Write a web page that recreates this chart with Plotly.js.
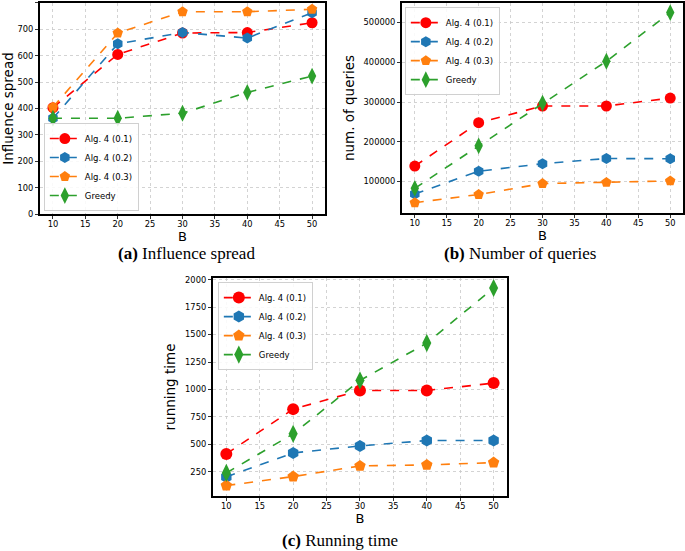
<!DOCTYPE html>
<html>
<head>
<meta charset="utf-8">
<script src="https://cdn.plot.ly/plotly-3.0.1.min.js"></script>
<style>html,body{margin:0;padding:0;background:#fff;}#chart{width:685px;height:551px;}</style>
</head>
<body>
<div id="chart"></div>
<script>
const budgets = [10, 20, 30, 40, 50];
const seriesNames = ["Alg. 4 (0.1)", "Alg. 4 (0.2)", "Alg. 4 (0.3)", "Greedy"];

const spreadAlg01 = [403, 605, 686, 688, 725];
const spreadAlg02 = [363, 645, 688, 667, 763];
const spreadAlg03 = [405, 686, 767, 767, 776];
const spreadGreedy = [363, 363, 382, 461, 523];

const queriesAlg01 = [139000, 248000, 290000, 290000, 310000];
const queriesAlg02 = [69000, 126000, 145000, 158000, 157500];
const queriesAlg03 = [47000, 67500, 95000, 98000, 101700];
const queriesGreedy = [83000, 190000, 297500, 402500, 525000];

const timeAlg01 = [413, 821, 991, 991, 1058];
const timeAlg02 = [204, 422, 486, 535, 535];
const timeAlg03 = [125, 207, 304, 313, 334];
const timeGreedy = [240, 596, 1082, 1422, 1924];

const xTicks = [10, 15, 20, 25, 30, 35, 40, 45, 50];
const spreadTicks = [0, 100, 200, 300, 400, 500, 600, 700, 800];
const queryTicks = [100000, 200000, 300000, 400000, 500000];
const timeTicks = [250, 500, 750, 1000, 1250, 1500, 1750, 2000];

const captionA = ["(a)", "Influence spread"];
const captionB = ["(b)", "Number of queries"];
const captionC = ["(c)", "Running time"];
const xTitle = "B";
const yTitles = ["Influence spread", "num. of queries", "running time"];

const colors = ["#ff0000", "#1f77b4", "#ff7f0e", "#2ca02c"];
const symbols = ["circle", "hexagon", "pentagon", "diamond-tall"];
const sizesTop = [11, 11, 11, 12];
const sizesBottom = [12, 12, 12, 13];

function mk(ys, i, xa, ya, leg, sizes) {
  return {
    x: budgets, y: ys, name: seriesNames[i], type: "scatter", mode: "lines+markers",
    xaxis: xa, yaxis: ya, legend: leg,
    line: {color: colors[i], width: 1.6, dash: "dash"},
    marker: {color: colors[i], symbol: symbols[i], size: sizes[i], line: {width: 0}}
  };
}

const data = [];
[spreadAlg01, spreadAlg02, spreadAlg03, spreadGreedy].forEach((s, i) => data.push(mk(s, i, "x", "y", "legend", sizesTop)));
[queriesAlg01, queriesAlg02, queriesAlg03, queriesGreedy].forEach((s, i) => data.push(mk(s, i, "x2", "y2", "legend2", sizesTop)));
[timeAlg01, timeAlg02, timeAlg03, timeGreedy].forEach((s, i) => data.push(mk(s, i, "x3", "y3", "legend3", sizesBottom)));

const tickFont = {family: "DejaVu Sans", size: 8.3, color: "#000"};
const titleFont = {family: "DejaVu Sans", size: 13, color: "#000"};

function xax(domain, anchor) {
  return {
    domain: domain, anchor: anchor, range: [8, 52], tickvals: xTicks, ticktext: xTicks.map(String),
    showline: true, mirror: true, linecolor: "#000", linewidth: 1.6,
    ticks: "outside", ticklen: 3.5, tickwidth: 0.8, tickcolor: "#000", ticklabelstandoff: -2,
    showgrid: true, gridcolor: "#c8c8c8", griddash: "dot", gridwidth: 0.8, zeroline: false,
    tickfont: tickFont, title: {text: xTitle, font: titleFont, standoff: 0}
  };
}
function yax(domain, anchor, range, ticks, title) {
  return {
    domain: domain, anchor: anchor, range: range, tickvals: ticks, ticktext: ticks.map(String),
    showline: true, mirror: true, linecolor: "#000", linewidth: 1.6,
    ticks: "outside", ticklen: 3.5, tickwidth: 0.8, tickcolor: "#000",
    showgrid: true, gridcolor: "#c8c8c8", griddash: "dot", gridwidth: 0.8, zeroline: false,
    tickfont: tickFont, title: {text: title, font: {family: "DejaVu Sans", size: 13.5, color: "#000"}, standoff: 6}
  };
}

const legendBase = {
  bgcolor: "rgba(255,255,255,0.85)", bordercolor: "#d0d0d0", borderwidth: 1,
  font: {family: "DejaVu Sans", size: 8.5, color: "#000"}, xanchor: "left", itemwidth: 30, tracegroupgap: 0
};

const capFont = {family: "Liberation Serif", size: 17, color: "#000"};
function cap(c, x, y) {
  return {text: "<b>" + c[0] + "</b> " + c[1], xref: "paper", yref: "paper", x: x, y: y,
    xanchor: "center", yanchor: "middle", showarrow: false, font: capFont};
}

const layout = {
  width: 685, height: 551, margin: {l: 0, r: 0, t: 0, b: 0},
  paper_bgcolor: "#fff", plot_bgcolor: "#fff", showlegend: true,
  xaxis: xax([0.0584, 0.4745], "y"),
  yaxis: yax([0.6116, 0.9946], "x", [0, 800], spreadTicks, yTitles[0]),
  xaxis2: xax([0.5869, 0.9971], "y2"),
  yaxis2: yax([0.6134, 0.9946], "x2", [21000, 549000], queryTicks, yTitles[1]),
  xaxis3: xax([0.3109, 0.7401], "y3"),
  yaxis3: yax([0.0998, 0.4955], "x3", [30, 2015], timeTicks, yTitles[2]),
  legend: Object.assign({}, legendBase, {x: 0.064, y: 0.617, yanchor: "bottom"}),
  legend2: Object.assign({}, legendBase, {x: 0.591, y: 0.987, yanchor: "top"}),
  legend3: Object.assign({}, legendBase, {x: 0.318, y: 0.488, yanchor: "top"}),
  annotations: [
    cap(captionA, 187 / 685, 1 - 253 / 551),
    cap(captionB, 520 / 685, 1 - 253 / 551),
    cap(captionC, 340 / 685, 1 - 540 / 551)
  ]
};

Plotly.newPlot("chart", data, layout, {staticPlot: true});
</script>
</body>
</html>
